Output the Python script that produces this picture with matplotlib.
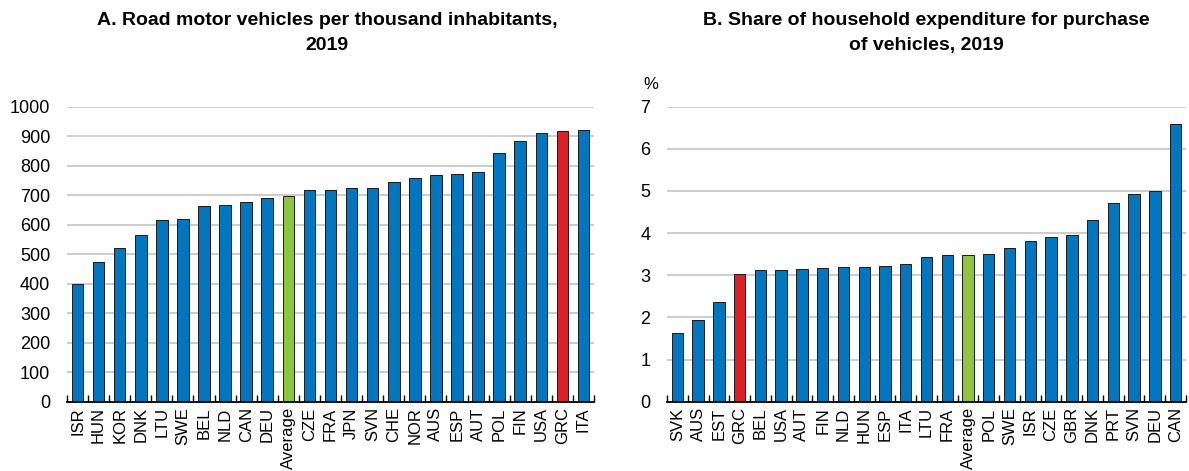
import matplotlib
matplotlib.use("Agg")
import matplotlib.pyplot as plt
import numpy as np

plt.rcParams['font.family'] = ['Liberation Sans', 'DejaVu Sans']

# Panel A data
a_countries = ["ISR", "HUN", "KOR", "DNK", "LTU", "SWE", "BEL", "NLD", "CAN", "DEU",
               "Average", "CZE", "FRA", "JPN", "SVN", "CHE", "NOR", "AUS", "ESP", "AUT",
               "POL", "FIN", "USA", "GRC", "ITA"]
a_values = [398, 473, 520, 566, 615, 620, 663, 666, 677, 690,
            698, 716, 719, 725, 726, 744, 758, 770, 771, 777,
            843, 884, 912, 917, 922]
a_ticks = [0, 100, 200, 300, 400, 500, 600, 700, 800, 900, 1000]

# Panel B data
b_countries = ["SVK", "AUS", "EST", "GRC", "BEL", "USA", "AUT", "FIN", "NLD", "HUN",
               "ESP", "ITA", "LTU", "FRA", "Average", "POL", "SWE", "ISR", "CZE", "GBR",
               "DNK", "PRT", "SVN", "DEU", "CAN"]
b_values = [1.63, 1.95, 2.36, 3.03, 3.12, 3.12, 3.14, 3.17, 3.19, 3.19,
            3.22, 3.26, 3.43, 3.48, 3.49, 3.51, 3.65, 3.81, 3.91, 3.95,
            4.31, 4.71, 4.94, 5.00, 6.59]
b_ticks = [0, 1, 2, 3, 4, 5, 6, 7]

BLUE = "#0276BF"
GREEN = "#8CC63E"
RED = "#DA2128"
GRID = "#C8C8C8"

W, H = 1189, 471
fig = plt.figure(figsize=(W / 100, H / 100), dpi=100)


def colors_for(names):
    out = []
    for n in names:
        if n == "Average":
            out.append(GREEN)
        elif n == "GRC":
            out.append(RED)
        else:
            out.append(BLUE)
    return out


def panel(rect, names, vals, ticks, title, title_x, ylab=None):
    ax = fig.add_axes(rect)
    x = np.arange(len(names))
    ax.bar(x, vals, width=0.55, color=colors_for(names), edgecolor="#1a1a1a",
           linewidth=0.7, zorder=3)
    ax.set_xlim(-0.5, len(names) - 0.5)
    ax.set_ylim(ticks[0], ticks[-1])
    ax.set_yticks(ticks)
    ax.set_yticklabels([str(t) for t in ticks], fontsize=13)
    ax.tick_params(axis='y', length=0, pad=12)
    ax.yaxis.grid(True, color=GRID, linewidth=1.3, zorder=0)
    ax.set_axisbelow(True)
    ax.set_xticks(x)
    ax.set_xticklabels(names, rotation=90, fontsize=12)
    ax.tick_params(axis='x', which='major', length=0, pad=4)
    ax.set_xticks(np.arange(len(names) + 1) - 0.5, minor=True)
    ax.tick_params(axis='x', which='minor', direction='in', length=5, width=1.0,
                   color='black')
    for s in ['top', 'right', 'left']:
        ax.spines[s].set_visible(False)
    ax.spines['bottom'].set_linewidth(1.3)
    ax.spines['bottom'].set_zorder(4)
    fig.text(title_x / W, 1 - 12 / H, title, fontsize=14, fontweight='bold',
             ha='center', va='top', linespacing=1.6)
    if ylab:
        ax.text(-0.031, 1.074, ylab, transform=ax.transAxes, fontsize=12,
                ha='center', va='center')
    return ax


def px_rect(x0, x1, ytop, ybot):
    return [x0 / W, (H - ybot) / H, (x1 - x0) / W, (ybot - ytop) / H]


panel(px_rect(67, 594, 106.7, 401.7), a_countries, a_values, a_ticks,
      "A. Road motor vehicles per thousand inhabitants,\n2019", 327)
panel(px_rect(667, 1186, 106.7, 401.7), b_countries, b_values, b_ticks,
      "B. Share of household expenditure for purchase\nof vehicles, 2019", 926,
      ylab="%")

fig.savefig("out.png", dpi=100)
